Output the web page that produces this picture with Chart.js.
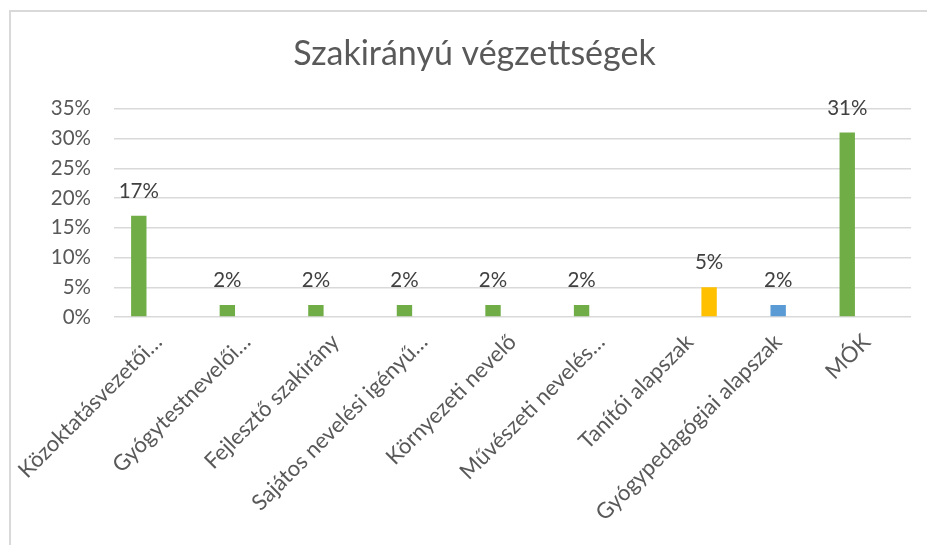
<!DOCTYPE html>
<html>
<head>
<meta charset="utf-8">
<script src="https://cdn.jsdelivr.net/npm/chart.js@4/dist/chart.umd.min.js"></script>
<style>
  html, body { margin: 0; padding: 0; background: #ffffff; }
  #wrap { position: relative; width: 927px; height: 545px; overflow: hidden; background: #fff; }
  #frame { position: absolute; left: 9px; top: 10px; width: 960px; height: 600px;
           border-top: 2px solid #d9d9d9; border-left: 2px solid #d9d9d9; box-sizing: border-box; }
  canvas { position: absolute; left: 0; top: 0; }
</style>
</head>
<body>
<div id="wrap">
  <div id="frame"></div>
  <canvas id="c" width="927" height="545"></canvas>
</div>
<script>
const titleText = "Szakirányú végzettségek";
const categories = [
  "Közoktatásvezetői…",
  "Gyógytestnevelői…",
  "Fejlesztő szakirány",
  "Sajátos nevelési igényű…",
  "Környezeti nevelő",
  "Művészeti nevelés…",
  "Tanítói alapszak",
  "Gyógypedagógiai alapszak",
  "MÓK"
];
const greenValues  = [17, 2, 2, 2, 2, 2, null, null, 31];
const blueValues   = [null, null, null, null, null, null, null, 2, null];
const yellowValues = [null, null, null, null, null, null, 5, null, null];
const yTicks = [0, 5, 10, 15, 20, 25, 30, 35];

const FONT = "Lato, 'Open Sans', sans-serif";

const dataLabels = {
  id: 'dataLabels',
  afterDatasetsDraw(chart) {
    const ctx = chart.ctx;
    ctx.save();
    ctx.font = "20.5px " + FONT;
    ctx.fillStyle = "#404040";
    ctx.textAlign = "center";
    ctx.textBaseline = "alphabetic";
    chart.data.datasets.forEach((ds, di) => {
      const meta = chart.getDatasetMeta(di);
      meta.data.forEach((bar, i) => {
        const v = ds.data[i];
        if (v === null || v === undefined) return;
        ctx.fillText(v + "%", bar.x, bar.y - 18);
      });
    });
    ctx.restore();
  }
};

new Chart(document.getElementById('c'), {
  type: 'bar',
  data: {
    labels: categories,
    datasets: [
      { label: 'A', data: greenValues, backgroundColor: '#70AD47' },
      { label: 'B', data: blueValues, backgroundColor: '#5B9BD5' },
      { label: 'C', data: yellowValues, backgroundColor: '#FFC000' }
    ]
  },
  options: {
    responsive: false,
    animation: false,
    devicePixelRatio: 1,
    categoryPercentage: 0.66,
    barPercentage: 0.79,
    layout: { padding: { left: 38, right: 16, top: 0, bottom: 0 } },
    plugins: {
      legend: { display: false },
      tooltip: { enabled: false },
      title: {
        display: true,
        text: titleText,
        color: '#595959',
        font: { family: FONT, size: 34, weight: 'normal', lineHeight: 1.2 },
        padding: { top: 34, bottom: 34 }
      }
    },
    scales: {
      x: {
        grid: { display: false, drawTicks: false },
        border: { display: false },
        ticks: {
          color: '#595959',
          font: { family: FONT, size: 22 },
          maxRotation: 45, minRotation: 45,
          autoSkip: false,
          padding: 12
        },
        afterFit(scale) { scale.height = 545 - 317; }
      },
      y: {
        min: 0, max: 35,
        afterBuildTicks(scale) { scale.ticks = yTicks.map(v => ({ value: v })); },
        grid: { color: '#d9d9d9', lineWidth: 1.5, drawTicks: false },
        border: { display: false },
        ticks: {
          color: '#595959',
          font: { family: FONT, size: 20.5 },
          padding: 23,
          callback: (v) => v + '%'
        },
        afterFit(scale) { scale.width = 76; }
      }
    }
  },
  plugins: [dataLabels]
});
</script>
</body>
</html>
